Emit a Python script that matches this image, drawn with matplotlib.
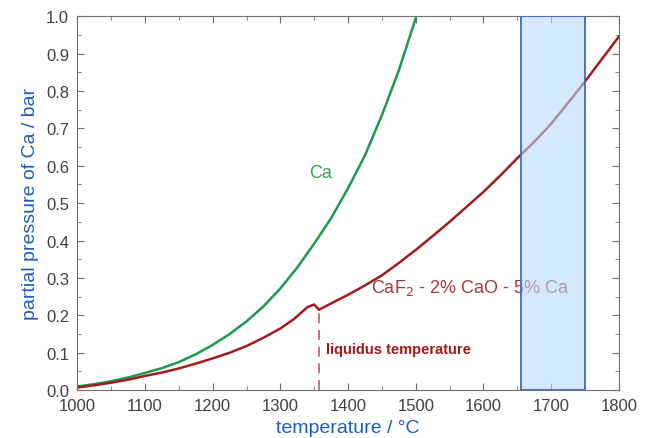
import matplotlib.pyplot as plt
from matplotlib.patches import Rectangle
from matplotlib.ticker import MultipleLocator

plt.rcParams["font.family"] = ["Liberation Sans", "DejaVu Sans"]

# pure Ca vapour pressure
temp_ca = [1000, 1025, 1050, 1075, 1100, 1125, 1150, 1175, 1200, 1225, 1250,
           1275, 1300, 1325, 1350, 1375, 1400, 1425, 1450, 1475, 1500, 1505]
p_ca = [0.010, 0.016, 0.024, 0.034, 0.046, 0.059, 0.075, 0.096, 0.121, 0.150,
        0.184, 0.224, 0.272, 0.328, 0.392, 0.460, 0.540, 0.628, 0.735, 0.855,
        0.995, 1.03]

# CaF2 - 2% CaO - 5% Ca
temp_slag = [1000, 1025, 1050, 1075, 1100, 1125, 1150, 1175, 1200, 1225, 1250,
             1275, 1300, 1320, 1340, 1350, 1357, 1375, 1400, 1425, 1450, 1475,
             1500, 1525, 1550, 1575, 1600, 1625, 1650, 1675, 1700, 1725, 1750,
             1775, 1800]
p_slag = [0.007, 0.013, 0.020, 0.028, 0.038, 0.047, 0.058, 0.071, 0.085, 0.100,
          0.118, 0.140, 0.165, 0.190, 0.222, 0.229, 0.215, 0.232, 0.255, 0.280,
          0.307, 0.340, 0.375, 0.412, 0.450, 0.490, 0.530, 0.574, 0.620, 0.664,
          0.712, 0.768, 0.825, 0.885, 0.945]

t_liquidus = 1357
p_liquidus = 0.215
window = (1655, 1750)

BLUE = "#1f5cc0"
GREEN = "#1e9a4e"
RED = "#a01c1c"

fig = plt.figure(figsize=(6.5, 4.39), dpi=100)
ax = fig.add_axes([0.119, 0.109, 0.833, 0.852])

ax.plot(temp_ca, p_ca, color=GREEN, lw=1.8, zorder=2)
ax.plot(temp_slag, p_slag, color=RED, lw=1.8, zorder=2)
ax.plot([t_liquidus, t_liquidus], [0, p_liquidus], color="#b06060",
        lw=1.2, ls=(0, (6, 4)), zorder=2)

ax.add_patch(Rectangle((window[0], 0), window[1] - window[0], 1.0,
                       facecolor=(0.72, 0.85, 1.0, 0.6),
                       edgecolor="#3a6cc0", lw=1.3, zorder=3))

ax.text(1360, 0.583, "Ca", color="#2aa54a", fontsize=13, ha="center", va="center")
ax.text(1434, 0.275, "CaF$_2$ - 2% CaO - 5% Ca", color="#a83838", fontsize=13,
        ha="left", va="center", zorder=2)
ax.text(1368, 0.11, "liquidus temperature", color="#a01818", fontsize=10.5,
        fontweight="bold", ha="left", va="center")

ax.set_xlim(1000, 1800)
ax.set_ylim(0, 1.0)
ax.xaxis.set_major_locator(MultipleLocator(100))
ax.xaxis.set_minor_locator(MultipleLocator(50))
ax.yaxis.set_major_locator(MultipleLocator(0.1))
ax.yaxis.set_minor_locator(MultipleLocator(0.05))
ax.yaxis.set_major_formatter(plt.FuncFormatter(lambda v, _: f"{v:.1f}"))
ax.tick_params(which="both", direction="in", top=True, right=True,
               colors="#707070", labelcolor="#404040", labelsize=12)
ax.tick_params(which="major", length=5, pad=6)
ax.tick_params(which="minor", length=3)
for s in ax.spines.values():
    s.set_color("#707070")

ax.set_xlabel("temperature / °C", color=BLUE, fontsize=14, labelpad=4)
ax.set_ylabel("partial pressure of Ca / bar", color=BLUE, fontsize=14, labelpad=5)

fig.savefig("out.png", dpi=100)
